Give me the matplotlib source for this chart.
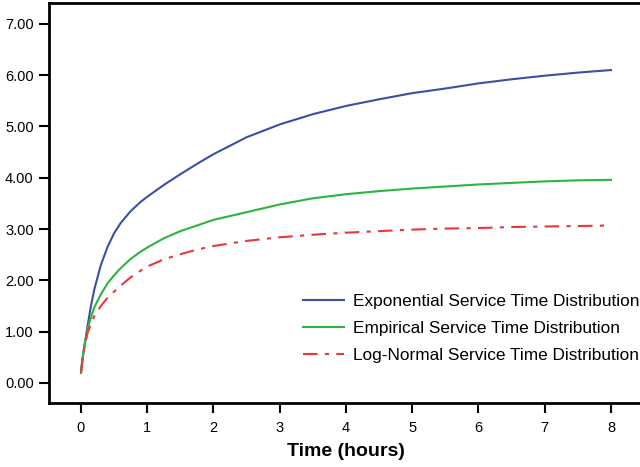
import matplotlib
matplotlib.use("Agg")
import matplotlib.pyplot as plt

plt.rcParams['font.family'] = ['Liberation Sans', 'DejaVu Sans']

time_hours = [0, 0.02, 0.05, 0.1, 0.15, 0.2, 0.3, 0.4, 0.5, 0.6, 0.75, 0.9,
              1.0, 1.25, 1.5, 1.75, 2, 2.5, 3, 3.5, 4, 4.5, 5, 5.5, 6, 6.5,
              7, 7.5, 8]
exponential = [0.2, 0.45, 0.7, 1.12, 1.5, 1.82, 2.3, 2.65, 2.92, 3.12, 3.35,
               3.53, 3.63, 3.86, 4.07, 4.27, 4.46, 4.79, 5.04, 5.24, 5.4,
               5.53, 5.65, 5.74, 5.84, 5.92, 5.99, 6.05, 6.1]
empirical = [0.2, 0.45, 0.72, 1.05, 1.28, 1.47, 1.73, 1.94, 2.1, 2.24, 2.42,
             2.56, 2.64, 2.82, 2.96, 3.07, 3.18, 3.33, 3.48, 3.6, 3.68, 3.74,
             3.79, 3.83, 3.87, 3.9, 3.93, 3.95, 3.96]
lognormal = [0.2, 0.42, 0.68, 0.98, 1.15, 1.3, 1.5, 1.66, 1.78, 1.9, 2.06,
             2.19, 2.27, 2.41, 2.51, 2.6, 2.67, 2.77, 2.84, 2.89, 2.93, 2.96,
             2.99, 3.01, 3.02, 3.04, 3.05, 3.06, 3.07]

labels = ["Exponential Service Time Distribution",
          "Empirical Service Time Distribution",
          "Log-Normal Service Time Distribution"]
x_ticks = [0, 1, 2, 3, 4, 5, 6, 7, 8]
y_ticks = [0, 1, 2, 3, 4, 5, 6, 7]

fig = plt.figure(figsize=(6.4, 4.67), dpi=100)
ax = fig.add_axes([49/640, 1 - 403/467, 601.7/640, 400/467])

ax.plot(time_hours, exponential, color='#3a4fa6', lw=1.5, label=labels[0])
ax.plot(time_hours, empirical, color='#2cb53c', lw=1.5, label=labels[1])
ax.plot(time_hours, lognormal, color='#e8383a', lw=1.5, label=labels[2],
        dashes=(7, 3.5, 2, 3.5))

ax.set_xlim(-0.483, 8.6)
ax.set_ylim(-0.39, 7.407)
ax.set_xticks(x_ticks)
ax.set_xticklabels([str(t) for t in x_ticks])
ax.set_yticks(y_ticks)
ax.set_yticklabels([f"{v:.2f}" for v in y_ticks])

for s in ax.spines.values():
    s.set_linewidth(2)
    s.set_color('black')
ax.tick_params(axis='both', direction='out', length=7, width=1.5,
               labelsize=10.5, pad=4)
ax.tick_params(axis='x', pad=6)

ax.set_xlabel("Time (hours)", fontsize=14, fontweight='bold')
ax.xaxis.set_label_coords((346 - 49) / 601.7, -0.1)

leg = ax.legend(loc='lower left', bbox_to_anchor=(303/640, 1 - 363/467),
                bbox_transform=fig.transFigure, frameon=False, fontsize=12.4,
                handlelength=2.4, handletextpad=0.5, labelspacing=0.7,
                borderaxespad=0, borderpad=0)

fig.savefig("out.png", dpi=100)
